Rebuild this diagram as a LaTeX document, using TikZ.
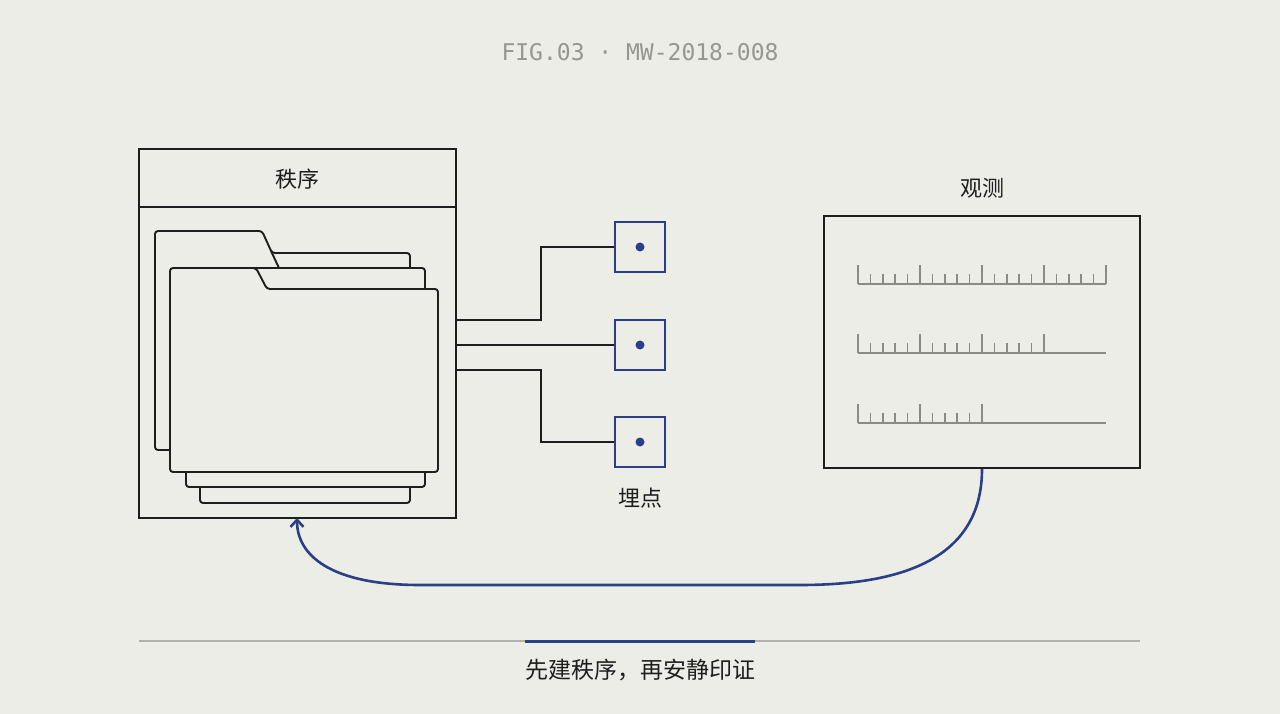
\documentclass[tikz,border=0pt]{standalone}
\usepackage{fontspec}
\setmonofont{DejaVu Sans Mono}
\newfontfamily\cjk{Noto Sans CJK SC}
\usetikzlibrary{arrows.meta}
\definecolor{paper}{HTML}{EDEDE8}
\definecolor{ink}{HTML}{1E1E1E}
\definecolor{navy}{HTML}{2B3F86}
\definecolor{rule}{HTML}{8A8A86}
\tikzset{
  box/.style={draw=ink, line width=1.9pt},
  sheet/.style={draw=ink, line width=1.9pt, fill=paper, rounded corners=3pt},
  probe/.style={draw=navy, line width=2.4pt, fill=paper, minimum size=50pt, inner sep=0pt},
  label/.style={font=\cjk\fontsize{22}{26}\selectfont, text=ink},
  tick/.style={draw=rule, line width=1.5pt}
}
\begin{document}
\begin{tikzpicture}[x=1pt, y=-1pt]
    \fill[paper] (0,0) rectangle (1280,714);
    \useasboundingbox (0,0) rectangle (1280,714);
    \node[font=\ttfamily\fontsize{23}{26}\selectfont, text=rule!90!white] (fig) at (640,52) {FIG.03 · MW-2018-008};
	% order
	\draw[box] (139,149) rectangle (456,518);
	\draw[box] (139,207) -- (456,207);
	\node[label] (order) at (297,179) {秩序};
	\coordinate (orderin) at (297,518);
	\draw[sheet] (200,400) rectangle (410,503);
	\draw[sheet] (155,450) -- (155,231) -- (262,231) -- (272,253) -- (410,253) -- (410,450) -- cycle;
	\draw[sheet] (186,268) rectangle (425,487);
	\draw[box] (271,251) -- (279,268);
	\draw[sheet] (170,472) -- (170,268) -- (256,268) -- (267,289) -- (438,289) -- (438,472) -- cycle;
	% probes
	\node[probe] (p1) at (640,247) {};
	\node[probe] (p2) at (640,345) {};
	\node[probe] (p3) at (640,442) {};
	\foreach \p in {p1,p2,p3}
	    \fill[navy] (\p) circle (4.5pt);
	\coordinate (o1) at (456,320);
	\coordinate (o2) at (456,345);
	\coordinate (o3) at (456,370);
	\draw[box] (o1) -- (541,320) |- (p1.west);
	\draw[box] (o2) -- (p2.west);
	\draw[box] (o3) -- (541,370) |- (p3.west);
	\node[label] (probes) at (640,498) {埋点};
	% observation
	\node[box, minimum width=316pt, minimum height=252pt, inner sep=0pt] (obs) at (982,342) {};
	\node[label] (obslabel) at (982,188) {观测};
	\foreach \y/\n in {284/20, 353/15, 423/10} {
	    \draw[tick] (858,\y) -- (1106,\y);
	    \foreach \i in {0,...,\n} {
	        \pgfmathsetmacro\len{mod(\i,5)==0 ? 19 : 10}
	        \draw[tick] (858+12.4*\i,\y) -- ++(0,-\len);
	    }
	}
	% feedback
	\draw[navy, line width=2.6pt, -{Straight Barb[length=7pt, width=13pt]}]
	    (obs.south) .. controls (982,560) and (900,585) .. (800,585)
	    -- (420,585) .. controls (330,585) and (297,555) .. (orderin);
	% caption
	\draw[rule!60!paper, line width=1.2pt] (139,641) -- (1140,641);
	\draw[navy, line width=3pt] (525,641) -- (755,641);
	\node[label, font=\cjk\fontsize{23}{26}\selectfont] (cap) at (640,670) {先建秩序，再安静印证};
\end{tikzpicture}
\end{document}
